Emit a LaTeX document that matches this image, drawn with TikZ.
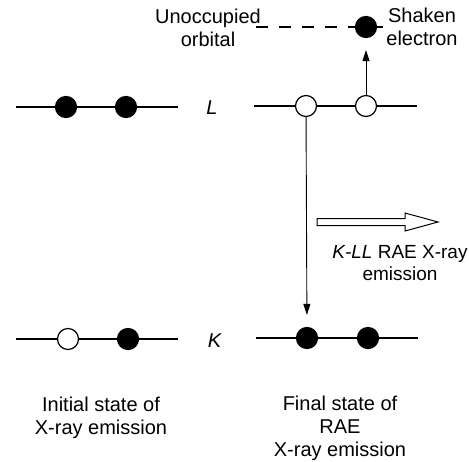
\documentclass[tikz,border=0pt]{standalone}
\usepackage{fontspec}
\setmainfont{Liberation Sans}
\usetikzlibrary{arrows, arrows.meta, positioning}

\begin{document}
\begin{tikzpicture}[x=1pt, y=-1pt, >={Triangle[length=11pt, width=7pt]},
	every node/.style={font=\fontsize{20}{23}\selectfont, align=center},
	full/.style={circle, draw, fill=black, minimum size=21pt, inner sep=0pt, line width=1.2pt},
	hole/.style={full, fill=white},
	level/.style={line width=2.8pt}]

	\useasboundingbox (0,0) rectangle (469,461);

	% energy levels
	\draw [level] (16,107) -- (178,107);
	\draw [level] (254,106) -- (417,106);
	\draw [level] (16,339) -- (178,339);
	\draw [level] (256,338) -- (418,338);
	\draw [line width=2pt, dash pattern=on 12pt off 11pt] (256,27) -- (388,27);

	% electrons and holes
	\node [full] (IL1) at (66,107) {};
	\node [full] (IL2) at (126,107) {};
	\node [hole] (FL1) at (306,106) {};
	\node [hole] (FL2) at (366,106) {};
	\node [full] (S) at (366,27) {};

	\node [hole] (IK1) at (68,339) {};
	\node [full] (IK2) at (128,339) {};
	\node [full] (FK1) at (307,338) {};
	\node [full] (FK2) at (368,338) {};

	\node (Ltxt) at (212,108) {\textit{L}};
	\node (Ktxt) at (215,341) {\textit{K}};

	% transitions
	\draw [->, line width=0.9pt, shorten >=12pt] (FL2) -- (S);
	\draw [->, line width=0.9pt, shorten >=12pt] (FL1) -- (FK1);

	% emitted photon
	\draw [line width=1pt, line join=miter] (317,218.5) -- (405,218.5) -- (405,213) -- (438,222)
		-- (405,231) -- (405,225.5) -- (317,225.5) -- cycle;

	\node (U) at (208,28) {Unoccupied\\orbital};
	\node (Sh) at (422,27) {Shaken\\electron};
	\node [font=\fontsize{19}{22}\selectfont] (E) at (400,263) {\textit{K-LL} RAE X-ray\\emission};
	\node (I) at (101,418) {Initial state of\\X-ray emission};
	\node (F) at (340,428) {Final state of\\RAE\\X-ray emission};

\end{tikzpicture}
\end{document}
